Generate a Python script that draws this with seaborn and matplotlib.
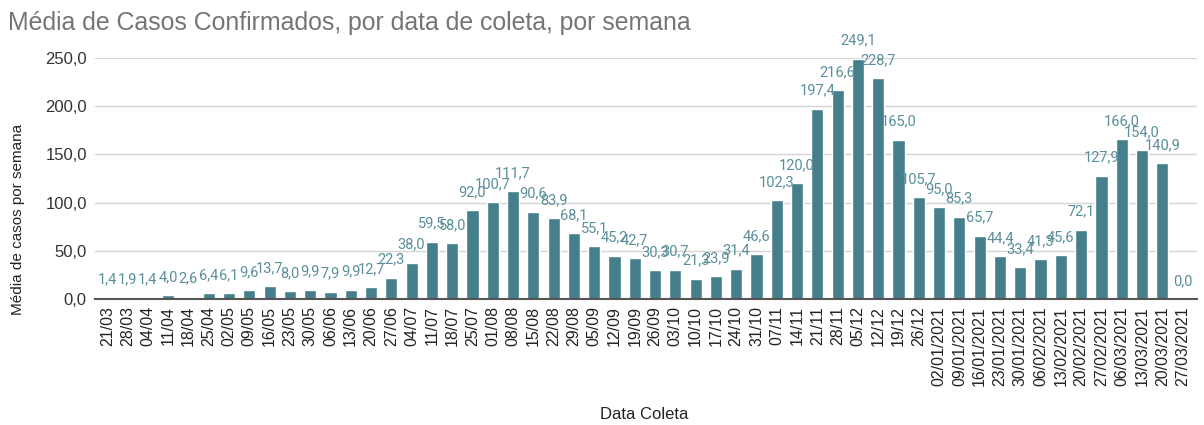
import pandas as pd
import matplotlib
matplotlib.use("Agg")
import matplotlib.pyplot as plt
import seaborn as sns

# Dados
DATAS = ['21/03', '28/03', '04/04', '11/04', '18/04', '25/04', '02/05', '09/05', '16/05',
         '23/05', '30/05', '06/06', '13/06', '20/06', '27/06', '04/07', '11/07', '18/07',
         '25/07', '01/08', '08/08', '15/08', '22/08', '29/08', '05/09', '12/09', '19/09',
         '26/09', '03/10', '10/10', '17/10', '24/10', '31/10', '07/11', '14/11', '21/11',
         '28/11', '05/12', '12/12', '19/12', '26/12', '02/01/2021', '09/01/2021',
         '16/01/2021', '23/01/2021', '30/01/2021', '06/02/2021', '13/02/2021',
         '20/02/2021', '27/02/2021', '06/03/2021', '13/03/2021', '20/03/2021', '27/03/2021']
MEDIAS = [1.4, 1.9, 1.4, 4.0, 2.6, 6.4, 6.1, 9.6, 13.7,
          8.0, 9.9, 7.9, 9.9, 12.7, 22.3, 38.0, 59.5, 58.0,
          92.0, 100.7, 111.7, 90.6, 83.9, 68.1, 55.1, 45.2, 42.7,
          30.3, 30.7, 21.3, 23.9, 31.4, 46.6, 102.3, 120.0, 197.4,
          216.6, 249.1, 228.7, 165.0, 105.7, 95.0, 85.3,
          65.7, 44.4, 33.4, 41.3, 45.6,
          72.1, 127.9, 166.0, 154.0, 140.9, 0.0]
Y_TICKS = [0, 50, 100, 150, 200, 250]

BAR_COLOR = '#467f8c'
LABEL_COLOR = '#5a8f9a'


def fmt(v):
    return f"{v:.1f}".replace('.', ',')


def main():
    df = pd.DataFrame({'data': DATAS, 'media': MEDIAS})

    sns.set_style('white')
    plt.rcParams['font.family'] = ['Liberation Sans', 'DejaVu Sans']

    fig = plt.figure(figsize=(12.04, 4.25), dpi=100)
    ax = fig.add_axes([0.079, 0.296, 0.915, 0.568])

    sns.barplot(data=df, x='data', y='media', color=BAR_COLOR, saturation=1,
                width=0.6, ax=ax, zorder=3)

    ax.bar_label(ax.containers[0], labels=[fmt(v) for v in MEDIAS], padding=8,
                 fontsize=10.5, color=LABEL_COLOR, family='Roboto', clip_on=False)

    ax.set_ylim(0, 250)
    ax.set_xlim(-0.6, 53.7)
    ax.set_yticks(Y_TICKS)
    ax.set_yticklabels([fmt(t) for t in Y_TICKS], fontsize=12, color='#333333')
    ax.tick_params(axis='x', labelrotation=90, labelsize=11.5, colors='#222222',
                   length=0, pad=5)
    ax.tick_params(axis='y', length=0, pad=6)
    ax.grid(axis='y', color='#d4d4d4', linewidth=1, zorder=0)
    for s in ['top', 'right', 'left']:
        ax.spines[s].set_visible(False)
    ax.spines['bottom'].set_color('#555555')
    ax.spines['bottom'].set_linewidth(1.5)
    ax.spines['bottom'].set_zorder(4)

    ax.set_xlabel('')
    fig.text(0.535, 0.024, 'Data Coleta', fontsize=12, color='#222222',
             ha='center', va='center')
    ax.set_ylabel('Média de casos por semana', fontsize=11, color='#222222')
    ax.yaxis.set_label_coords(-0.064, 0.33)

    fig.text(0.007, 0.945, 'Média de Casos Confirmados, por data de coleta, por semana',
             fontsize=17.9, color='#757575', ha='left', va='center')

    fig.savefig('out.png', dpi=100)


if __name__ == '__main__':
    main()
